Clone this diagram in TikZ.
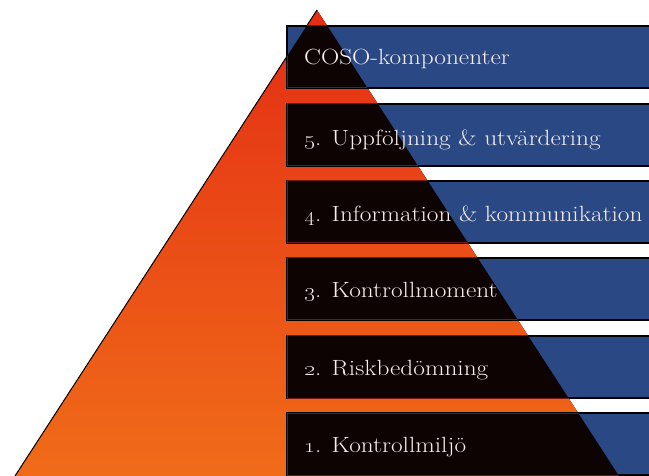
\documentclass[tikz,border=0pt]{standalone}
\definecolor{bandblue}{RGB}{42,72,132}
\definecolor{tritop}{RGB}{228,45,20}
\definecolor{tribot}{RGB}{240,108,25}
\definecolor{innerdark}{RGB}{14,3,3}
\definecolor{innerline}{RGB}{115,22,22}
\definecolor{labeltext}{RGB}{246,238,238}
\newcommand{\widetext}[1]{\scalebox{1.15}[1]{#1}}
\begin{document}
\begin{tikzpicture}[x=1pt,y=-1pt,
  bandbox/.style={draw=black,line width=1.5pt,fill=bandblue},
  innerbox/.style={draw=innerline,line width=1pt,fill=innerdark},
  bandlabel/.style={anchor=base west,text=labeltext,font=\fontsize{22}{26}\selectfont,inner sep=0pt}]
\useasboundingbox (0,0) rectangle (649,476);
\coordinate (apex) at (317,10);
\coordinate (bl) at (15,476);
\coordinate (br) at (619,476);
\begin{scope}
\clip (0,0) rectangle (649,476);
% triangle
\fill[top color=tritop,bottom color=tribot] (apex) -- (bl) -- (br) -- cycle;
\draw[black,line width=1pt] (apex) -- (bl);
% bands
\foreach \t in {26,104,181,258,336,413}{
  \draw[bandbox] (287,\t) rectangle (662,\t+62);
}
% dark part of bands inside the triangle
\begin{scope}
\clip (apex) -- (bl) -- (br) -- cycle;
\foreach \t in {26,104,181,258,336,413}{
  \draw[innerbox] (287,\t) rectangle (662,\t+62);
}
\end{scope}
\end{scope}
% labels
\node[bandlabel] (l0) at (304,65) {\widetext{COSO-komponenter}};
\node[bandlabel] (l5) at (304,146) {\widetext{\oldstylenums{5}. Uppföljning \& utvärdering}};
\node[bandlabel] (l4) at (304,222) {\widetext{\oldstylenums{4}. Information \& kommunikation}};
\node[bandlabel] (l3) at (304,298) {\widetext{\oldstylenums{3}. Kontrollmoment}};
\node[bandlabel] (l2) at (304,375) {\widetext{\oldstylenums{2}. Riskbedömning}};
\node[bandlabel] (l1) at (304,452) {\widetext{\oldstylenums{1}. Kontrollmiljö}};
\end{tikzpicture}
\end{document}
